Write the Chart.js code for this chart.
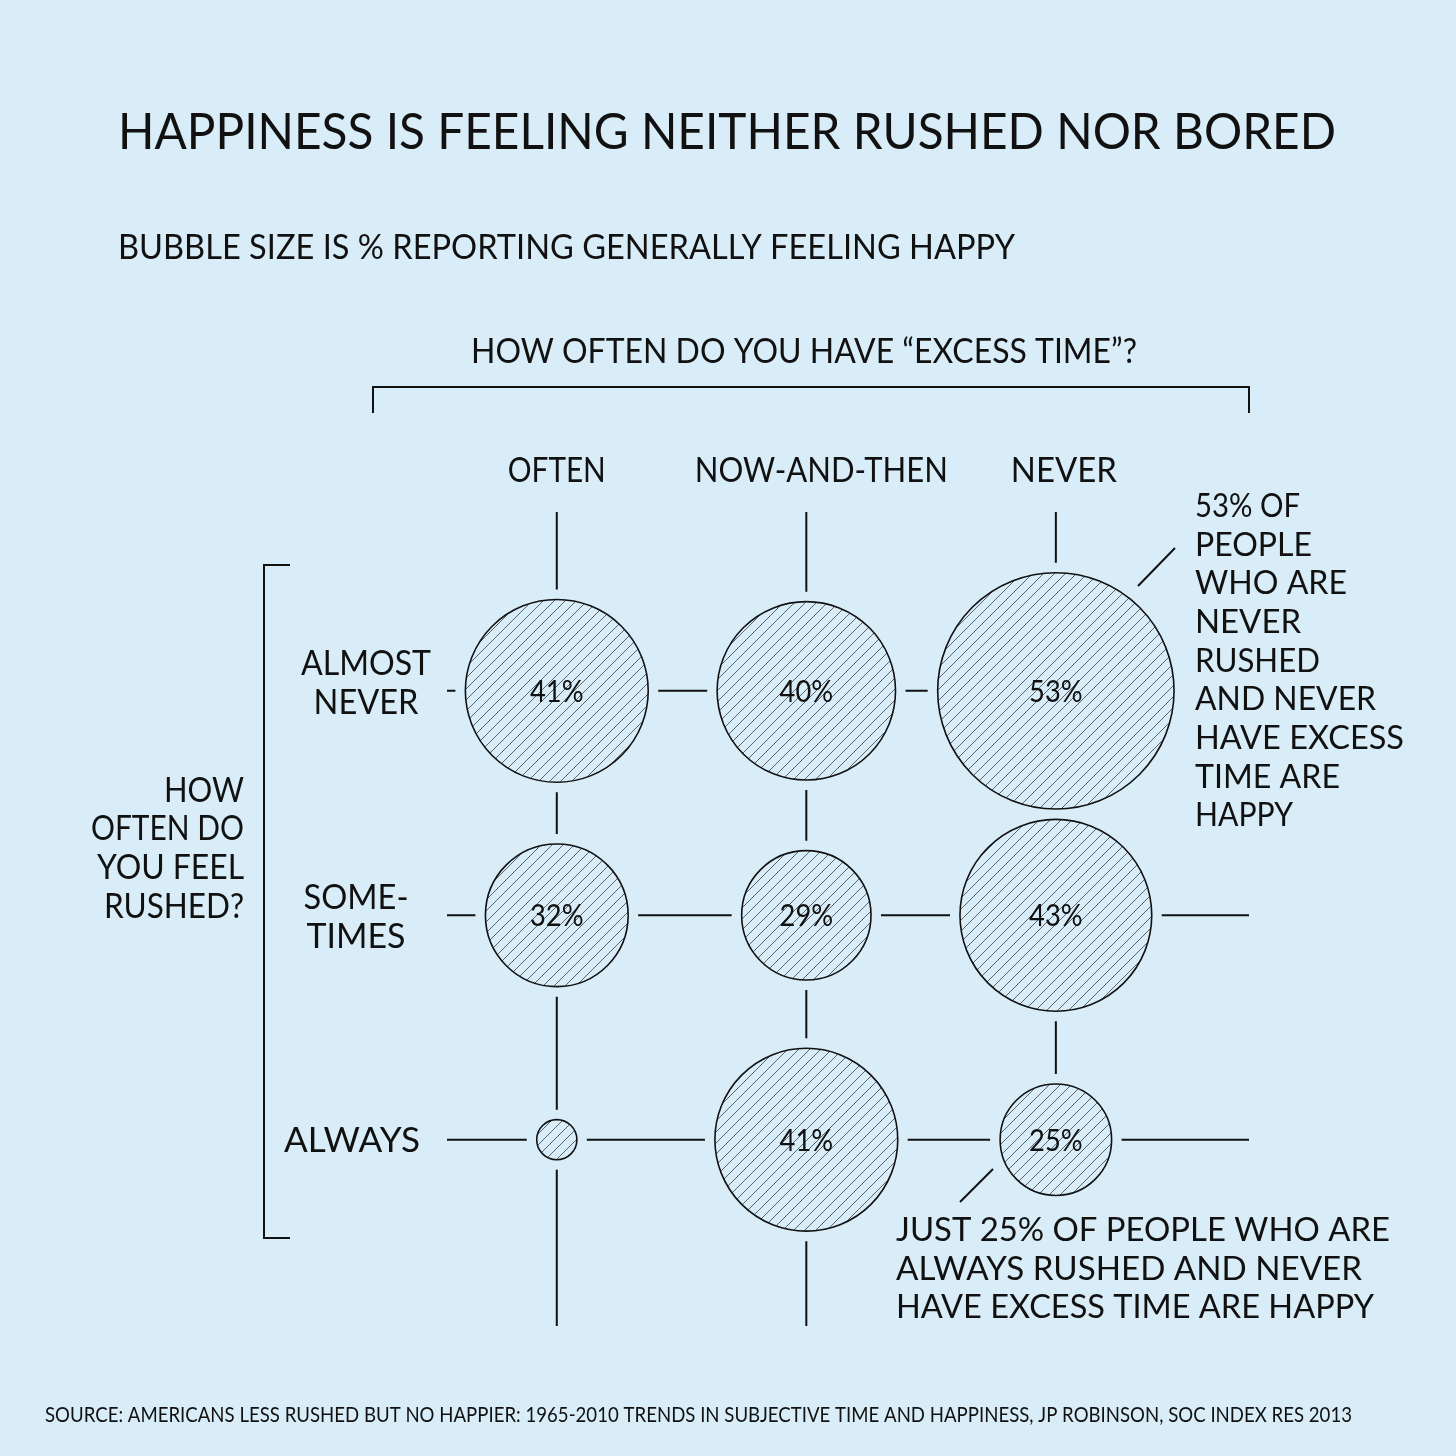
<!DOCTYPE html>
<html><head><meta charset="utf-8">
<script src="https://cdn.jsdelivr.net/npm/chart.js@4.4.1/dist/chart.umd.min.js"></script>
<style>html,body{margin:0;padding:0;background:#d8edf8;} #wrap{width:1456px;height:1456px;position:relative;}</style>
</head><body><div id="wrap"><canvas id="c" width="1456" height="1456"></canvas></div>
<script>
// ---- data ----
const excessTimeCategories = ['OFTEN', 'NOW-AND-THEN', 'NEVER'];
const rushedCategories = [['ALMOST', 'NEVER'], ['SOME-', 'TIMES'], ['ALWAYS']];
const happyAlmostNeverRushed = [41, 40, 53];
const happySometimesRushed = [32, 29, 43];
const happyAlwaysRushed = [9, 41, 25];
const labelsAlmostNeverRushed = ['41%', '40%', '53%'];
const labelsSometimesRushed = ['32%', '29%', '43%'];
const labelsAlwaysRushed = ['', '41%', '25%'];

const BG = '#d8edf8';
const INK = '#111';
const FONT = 'Lato, "DejaVu Sans", sans-serif';
const WEIGHT = 400;
const R_PER_PCT = 2.23;
const HALO = 10;

const rows = [
  {vals: happyAlmostNeverRushed, labels: labelsAlmostNeverRushed},
  {vals: happySometimesRushed, labels: labelsSometimesRushed},
  {vals: happyAlwaysRushed, labels: labelsAlwaysRushed}
];
const points = [];
rows.forEach((row, ri) => row.vals.forEach((v, ci) => {
  points.push({x: ci, y: ri, v: v, label: row.labels[ci], r: v * R_PER_PCT});
}));
const haloPoints = points.map(p => ({x: p.x, y: p.y, r: p.r + HALO}));

// hatch pattern
function makeHatch() {
  const s = 11;
  const c = document.createElement('canvas');
  c.width = s; c.height = s;
  const g = c.getContext('2d');
  g.fillStyle = BG; g.fillRect(0, 0, s, s);
  g.strokeStyle = 'rgba(45,55,65,0.75)';
  g.lineWidth = 1;
  g.beginPath();
  g.moveTo(0, s); g.lineTo(s, 0);
  g.moveTo(-2, 2); g.lineTo(2, -2);
  g.moveTo(s - 2, s + 2); g.lineTo(s + 2, s - 2);
  g.stroke();
  return g.createPattern(c, 'repeat');
}

function txt(ctx, s, x, cy, size, align, w, sx) {
  ctx.save();
  ctx.font = `${WEIGHT} ${size}px ${FONT}`;
  ctx.fillStyle = INK;
  const m = ctx.measureText(s).width;
  const k = w ? w / m : (sx || 1);
  ctx.translate(x, cy + size * 0.36);
  ctx.scale(k, 1);
  ctx.textAlign = align;
  ctx.textBaseline = 'alphabetic';
  ctx.fillText(s, 0, 0);
  ctx.restore();
}
function line(ctx, pts, w) {
  ctx.save();
  ctx.strokeStyle = INK; ctx.lineWidth = w || 2; ctx.lineCap = 'butt';
  ctx.beginPath();
  ctx.moveTo(pts[0], pts[1]);
  for (let i = 2; i < pts.length; i += 2) ctx.lineTo(pts[i], pts[i + 1]);
  ctx.stroke();
  ctx.restore();
}

const decor = {
  id: 'decor',
  beforeDatasetsDraw(chart) {
    const {ctx, chartArea: a, scales: {x, y}} = chart;
    const nCol = excessTimeCategories.length, nRow = rushedCategories.length;
    for (let c = 0; c < nCol; c++) {
      const px = x.getPixelForValue(c);
      const bottom = c === nCol - 1 ? y.getPixelForValue(nRow - 1) : a.bottom;
      line(ctx, [px, a.top, px, bottom]);
    }
    for (let r = 0; r < nRow; r++) {
      const py = y.getPixelForValue(r);
      const right = r === 0 ? x.getPixelForValue(nCol - 1) : a.right;
      line(ctx, [a.left, py, right, py]);
    }
  },
  afterDatasetsDraw(chart) {
    const {ctx, scales: {x, y}} = chart;
    points.forEach(p => {
      if (p.label) txt(ctx, p.label, x.getPixelForValue(p.x), y.getPixelForValue(p.y), 31, 'center', null, 0.88);
    });
  },
  afterDraw(chart) {
    const {ctx, scales: {x, y}} = chart;
    txt(ctx, 'HAPPINESS IS FEELING NEITHER RUSHED NOR BORED', 118, 131, 50, 'left', 1218);
    txt(ctx, 'BUBBLE SIZE IS % REPORTING GENERALLY FEELING HAPPY', 118, 246, 35, 'left', 897);
    txt(ctx, 'HOW OFTEN DO YOU HAVE \u201CEXCESS TIME\u201D?', 471, 350, 35, 'left', 666);
    line(ctx, [373, 413, 373, 387, 1249, 387, 1249, 413]);
    const colW = [98, 253, 106];
    const colOff = [0, 15, 8];
    excessTimeCategories.forEach((t, i) => txt(ctx, t, x.getPixelForValue(i) + colOff[i], 469, 35, 'center', colW[i]));
    const rowCx = [366, 356, 352];
    const rowW = [[130, 105], [105, 99], [136]];
    const rowShift = [-8.5, 0.5, 0];
    rushedCategories.forEach((lines, i) => {
      const cy = y.getPixelForValue(i) + rowShift[i];
      const n = lines.length;
      lines.forEach((t, j) => txt(ctx, t, rowCx[i], cy + (j - (n - 1) / 2) * 39, 35, 'center', rowW[i][j]));
    });
    line(ctx, [290, 565, 264, 565, 264, 1238, 290, 1238]);
    const yTitle = ['HOW', 'OFTEN DO', 'YOU FEEL', 'RUSHED?'];
    const yTitleW = [80, 153, 147, 140];
    yTitle.forEach((t, i) => txt(ctx, t, 244, 789 + i * 38.7, 35, 'right', yTitleW[i]));
    const note1 = ['53% OF', 'PEOPLE', 'WHO ARE', 'NEVER', 'RUSHED', 'AND NEVER', 'HAVE EXCESS', 'TIME ARE', 'HAPPY'];
    const note1W = [105, 117, 152, 106, 125, 181, 209, 145, 98];
    note1.forEach((t, i) => txt(ctx, t, 1195, 505 + i * 38.7, 33, 'left', note1W[i]));
    line(ctx, [1138, 586, 1175, 548]);
    const note2 = ['JUST 25% OF PEOPLE WHO ARE', 'ALWAYS RUSHED AND NEVER', 'HAVE EXCESS TIME ARE HAPPY'];
    const note2W = [494, 466, 478];
    note2.forEach((t, i) => txt(ctx, t, 896, 1229 + i * 38.7, 33, 'left', note2W[i]));
    line(ctx, [960, 1202, 993, 1169]);
    txt(ctx, 'SOURCE: AMERICANS LESS RUSHED BUT NO HAPPIER: 1965-2010 TRENDS IN SUBJECTIVE TIME AND HAPPINESS, JP ROBINSON, SOC INDEX RES 2013', 45, 1414, 22, 'left', 1307);
  }
};

new Chart(document.getElementById('c'), {
  type: 'bubble',
  data: {
    datasets: [
      {label: 'happy', data: points, backgroundColor: makeHatch(), borderColor: INK, borderWidth: 1.6, order: 1},
      {label: 'halo', data: haloPoints, backgroundColor: BG, borderWidth: 0, order: 2}
    ]
  },
  options: {
    responsive: false,
    animation: false,
    events: [],
    layout: {padding: {left: 447, right: 207, top: 512, bottom: 130}},
    scales: {
      x: {type: 'linear', display: false, min: -0.44, max: 2.774},
      y: {type: 'linear', display: false, reverse: true, min: -0.797, max: 2.83}
    },
    plugins: {legend: {display: false}, tooltip: {enabled: false}, title: {display: false}}
  },
  plugins: [decor]
});
</script>
</body></html>
